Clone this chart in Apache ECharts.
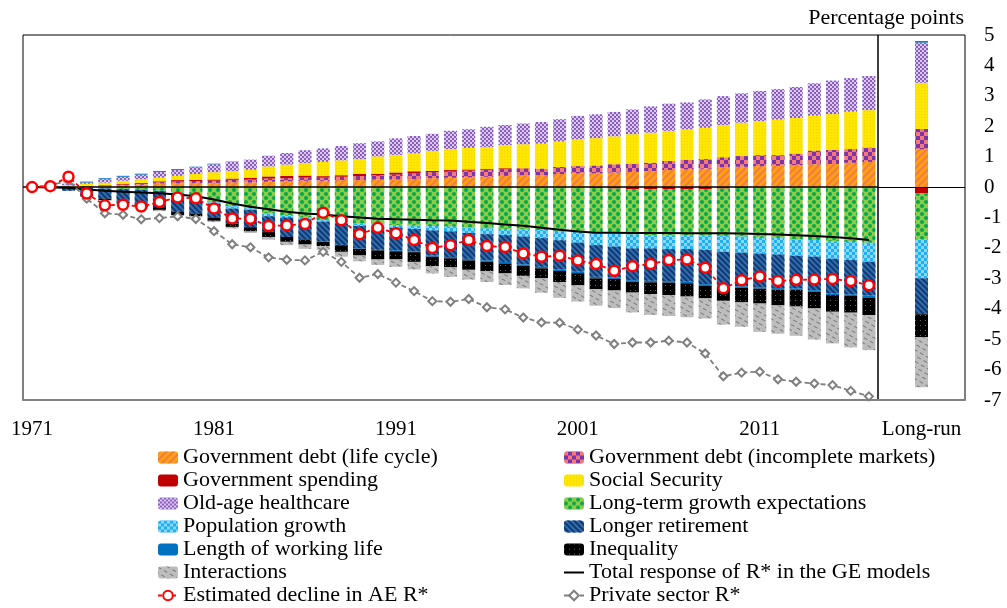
<!DOCTYPE html>
<html>
<head>
<meta charset="utf-8">
<script src="https://cdn.jsdelivr.net/npm/echarts@6/dist/echarts.min.js"></script>
<style>
html,body{margin:0;padding:0;background:#fff;}
#chart{width:1007px;height:608px;}
</style>
</head>
<body>
<div id="chart"></div>
<script>
// ---------------- DATA ----------------
const years = ['1971','1972','1973','1974','1975','1976','1977','1978','1979','1980',
  '1981','1982','1983','1984','1985','1986','1987','1988','1989','1990',
  '1991','1992','1993','1994','1995','1996','1997','1998','1999','2000',
  '2001','2002','2003','2004','2005','2006','2007','2008','2009','2010',
  '2011','2012','2013','2014','2015','2016','2017'];
const longRunLabel = ['Long-run'];
const yTicks = [-7,-6,-5,-4,-3,-2,-1,0,1,2,3,4,5];

const govDebtLifeCycle = [0,0,0.02,0.03,0.05,0.06,0.08,0.12,0.13,0.14,0.14,0.16,0.15,0.18,0.19,0.21,0.21,0.23,0.23,0.25,
  0.25,0.26,0.29,0.31,0.32,0.34,0.37,0.39,0.39,0.43,0.45,0.45,0.48,0.5,0.53,0.56,0.58,0.61,0.65,0.67,
  0.69,0.7,0.72,0.75,0.76,0.8,0.83];
const govDebtIncomplete = [0,0,0,0.01,0.01,0.02,0.03,0.04,0.05,0.06,0.07,0.08,0.1,0.1,0.1,0.1,0.1,0.11,0.13,0.14,
  0.16,0.19,0.2,0.2,0.22,0.22,0.22,0.22,0.22,0.23,0.24,0.26,0.27,0.27,0.27,0.3,0.31,0.31,0.33,0.35,
  0.36,0.35,0.38,0.45,0.46,0.45,0.47];
const govSpending = [0,0,0,0,0.01,0.02,0.03,0.03,0.05,0.04,0.04,0.04,0.05,0.07,0.08,0.07,0.05,0.05,0.07,0.05,
  0.07,0.07,0.04,0.05,0.04,0.03,0.03,0.01,0,0,-0.02,-0.03,-0.05,-0.07,-0.07,-0.07,-0.07,-0.07,-0.05,-0.03,
  -0.02,-0.01,0,0,0,0,0];
const socialSecurity = [0,0,0.05,0.07,0.08,0.11,0.12,0.12,0.14,0.19,0.24,0.25,0.27,0.33,0.37,0.41,0.47,0.49,0.49,0.57,
  0.58,0.59,0.66,0.69,0.71,0.73,0.76,0.79,0.82,0.84,0.88,0.9,0.92,0.97,0.99,0.99,1.01,1.03,1.06,1.1,
  1.12,1.17,1.17,1.15,1.18,1.23,1.23];
const oldAgeHealthcare = [0,0,0.03,0.04,0.11,0.13,0.15,0.19,0.19,0.22,0.26,0.3,0.33,0.35,0.38,0.42,0.44,0.47,0.52,0.49,
  0.54,0.57,0.56,0.6,0.61,0.66,0.66,0.68,0.71,0.73,0.77,0.78,0.8,0.81,0.86,0.89,0.88,0.93,0.95,0.96,
  0.99,1.0,1.02,1.06,1.1,1.1,1.12];
const growthExpectations = [0,0,0,-0.02,-0.04,-0.06,-0.08,-0.12,-0.18,-0.3,-0.5,-0.63,-0.7,-0.87,-0.92,-1.0,-1.09,-1.12,-1.2,-1.22,
  -1.25,-1.27,-1.28,-1.3,-1.33,-1.36,-1.38,-1.39,-1.41,-1.44,-1.45,-1.47,-1.47,-1.49,-1.51,-1.51,-1.51,-1.52,-1.56,-1.6,
  -1.65,-1.66,-1.72,-1.74,-1.78,-1.8,-1.83];
const populationGrowth = [0,0,0,0,-0.01,-0.01,-0.01,-0.01,-0.02,-0.02,-0.05,-0.08,-0.05,-0.09,-0.08,-0.06,-0.05,-0.08,-0.08,-0.09,
  -0.09,-0.11,-0.15,-0.16,-0.18,-0.19,-0.2,-0.24,-0.27,-0.31,-0.36,-0.41,-0.44,-0.46,-0.44,-0.46,-0.46,-0.48,-0.52,-0.53,
  -0.52,-0.55,-0.54,-0.55,-0.58,-0.6,-0.63];
const longerRetirement = [0,0,-0.12,-0.26,-0.33,-0.42,-0.48,-0.53,-0.61,-0.55,-0.45,-0.49,-0.57,-0.52,-0.64,-0.65,-0.65,-0.7,-0.73,-0.75,
  -0.74,-0.73,-0.82,-0.84,-0.85,-0.86,-0.88,-0.91,-0.94,-0.96,-0.95,-1.04,-1.01,-1.04,-1.06,-1.05,-1.07,-1.12,-1.12,-1.1,
  -1.1,-1.1,-1.07,-1.1,-1.14,-1.13,-1.1];
const workingLife = [0,0,0.01,0.03,0.03,0.03,0.03,0.03,0.03,0.02,0.02,0.01,0,0,0,-0.01,-0.01,-0.01,-0.02,-0.02,
  -0.03,-0.03,-0.04,-0.04,-0.05,-0.05,-0.05,-0.05,-0.05,-0.05,-0.05,-0.05,-0.05,-0.05,-0.05,-0.05,-0.05,-0.05,-0.05,-0.05,
  -0.05,-0.05,-0.05,-0.05,-0.05,-0.05,-0.07];
const inequality = [0,0,0,-0.03,-0.05,-0.05,-0.09,-0.09,-0.11,-0.09,-0.11,-0.11,-0.14,-0.16,-0.16,-0.17,-0.14,-0.22,-0.22,-0.3,
  -0.27,-0.32,-0.31,-0.3,-0.31,-0.31,-0.33,-0.33,-0.33,-0.36,-0.4,-0.36,-0.38,-0.36,-0.39,-0.41,-0.44,-0.42,-0.44,-0.48,
  -0.49,-0.52,-0.55,-0.55,-0.55,-0.55,-0.58];
const interactions = [0,0,0,-0.01,-0.02,-0.03,-0.03,-0.04,-0.03,-0.04,-0.04,-0.05,-0.05,-0.09,-0.11,-0.14,-0.13,-0.16,-0.19,-0.18,
  -0.24,-0.25,-0.24,-0.31,-0.32,-0.35,-0.38,-0.41,-0.47,-0.52,-0.53,-0.54,-0.58,-0.65,-0.68,-0.69,-0.68,-0.66,-0.78,-0.8,
  -0.93,-0.93,-0.96,-1.02,-1.04,-1.14,-1.15];

// Long-run bar, in series order
const longRunValues = [1.24,0.67,-0.21,1.52,1.32,-1.5,-1.29,-1.18,0.05,-0.76,-1.64];

const totalGE = [0,-0.01,-0.02,-0.08,-0.12,-0.15,-0.18,-0.2,-0.24,-0.3,-0.41,-0.54,-0.65,-0.73,-0.81,-0.87,-0.9,-0.96,-1.0,-1.04,
  -1.06,-1.07,-1.09,-1.1,-1.14,-1.18,-1.23,-1.27,-1.34,-1.4,-1.46,-1.5,-1.5,-1.51,-1.51,-1.51,-1.52,-1.52,-1.52,-1.53,
  -1.54,-1.56,-1.58,-1.61,-1.64,-1.68,-1.74];
const estimatedAE = [0,0.03,0.34,-0.21,-0.6,-0.58,-0.64,-0.49,-0.34,-0.37,-0.7,-1.03,-1.04,-1.28,-1.26,-1.21,-0.84,-1.09,-1.55,-1.34,
  -1.52,-1.74,-2.0,-1.91,-1.74,-1.94,-1.97,-2.18,-2.29,-2.26,-2.41,-2.53,-2.75,-2.6,-2.53,-2.4,-2.38,-2.65,-3.33,-3.06,
  -2.94,-3.09,-3.05,-3.04,-3.02,-3.09,-3.23];
const privateSector = [0,0.05,0.22,-0.38,-0.86,-0.91,-1.06,-1.02,-0.96,-1.05,-1.45,-1.88,-1.98,-2.31,-2.39,-2.41,-2.13,-2.46,-2.98,-2.86,
  -3.14,-3.42,-3.75,-3.77,-3.68,-3.95,-4.02,-4.29,-4.45,-4.46,-4.68,-4.88,-5.16,-5.11,-5.11,-5.05,-5.11,-5.47,-6.22,-6.1,
  -6.07,-6.32,-6.4,-6.46,-6.51,-6.7,-6.88];

const barNames = ['Government debt (life cycle)','Government debt (incomplete markets)','Government spending',
  'Social Security','Old-age healthcare','Long-term growth expectations','Population growth',
  'Longer retirement','Length of working life','Inequality','Interactions'];
const barData = [govDebtLifeCycle,govDebtIncomplete,govSpending,socialSecurity,oldAgeHealthcare,
  growthExpectations,populationGrowth,longerRetirement,workingLife,inequality,interactions];
const lineNames = ['Total response of R* in the GE models','Estimated decline in AE R*','Private sector R*'];

// ---------------- STYLES ----------------
const FONT = 'Liberation Serif';
const barStyles = [
  {color:'#FFA010', decal:{symbol:'rect',symbolSize:1,color:'rgba(238,112,86,0.8)',dashArrayX:[1,0],dashArrayY:[2,3],rotation:-Math.PI/4}},
  {color:'#F47A7A', decal:{symbol:'rect',symbolSize:1,color:'#7B35A8',dashArrayX:[[4,4],[0,4,4,0]],dashArrayY:[4,0]}},
  {color:'#C00000'},
  {color:'#FFE600', decal:{symbol:'rect',symbolSize:1,color:'rgba(215,180,0,0.35)',dashArrayX:[1,2],dashArrayY:[1,2]}},
  {color:'#D9CBEF', decal:{symbol:'rect',symbolSize:1,color:'#8C5CC2',dashArrayX:[[2,2],[0,2,2,0]],dashArrayY:[2,0]}},
  {color:'#8DCB4B', decal:{symbol:'circle',symbolSize:1,color:'#00A84F',dashArrayX:[[4,4],[0,4,4,0]],dashArrayY:[4,0]}},
  {color:'#1FB0EE', decal:{symbol:'rect',symbolSize:1,color:'rgba(165,222,250,0.8)',dashArrayX:[[3,3],[0,3,3,0]],dashArrayY:[3,0]}},
  {color:'#2E6EB5', decal:{symbol:'rect',symbolSize:1,color:'#15386A',dashArrayX:[1,0],dashArrayY:[2,2],rotation:Math.PI/4}},
  {color:'#0070C0'},
  {color:'#000000', decal:{symbol:'rect',symbolSize:1,color:'#666666',dashArrayX:[1,4],dashArrayY:[1,4]}},
  {color:'#BDBDBD', decal:{symbol:'rect',symbolSize:1,color:'#7A7A7A',dashArrayX:[4,3],dashArrayY:[1,4],rotation:Math.PI/6}}
];

// ---------------- OPTION ----------------
const series = [];
barNames.forEach((name,i)=>{
  series.push({
    name:name, type:'bar', stack:'main', xAxisIndex:0, yAxisIndex:0,
    barWidth:13, data:barData[i], itemStyle:barStyles[i],
    markLine: i===0 ? {silent:true,symbol:['none','none'],label:{show:false},
      lineStyle:{color:'#000',width:1.5,type:'solid'},data:[{yAxis:0}]} : undefined
  });
  series.push({
    name:name, type:'bar', stack:'lr', xAxisIndex:1, yAxisIndex:1,
    barWidth:13, data:[longRunValues[i]], itemStyle:barStyles[i],
    markLine: i===0 ? {silent:true,symbol:['none','none'],label:{show:false},
      lineStyle:{color:'#000',width:1.2,type:'solid'},data:[{yAxis:0}]} : undefined
  });
});
series.push({
  name:lineNames[0], type:'line', xAxisIndex:0, yAxisIndex:0, data:totalGE,
  symbol:'none', lineStyle:{color:'#000',width:2}, itemStyle:{color:'#000'}, z:5
});
series.push({
  name:lineNames[2], type:'line', xAxisIndex:0, yAxisIndex:0, data:privateSector,
  symbol:'diamond', symbolSize:8,
  lineStyle:{color:'#7F7F7F',width:1.8,type:[5,3]},
  itemStyle:{color:'#fff',borderColor:'#7F7F7F',borderWidth:2}, z:6
});
series.push({
  name:lineNames[1], type:'line', xAxisIndex:0, yAxisIndex:0, data:estimatedAE,
  symbol:'circle', symbolSize:10,
  lineStyle:{color:'#FF0000',width:1.8,type:[4,3]},
  itemStyle:{color:'#fff',borderColor:'#FF0000',borderWidth:2.5}, z:7
});

const allNames = barNames.concat(lineNames);
const legendItem = n => n===lineNames[0] ? {name:n, itemStyle:{opacity:0}} : {name:n};
const leftLegend = allNames.filter((n,i)=>i%2===0).map(legendItem);
const rightLegend = allNames.filter((n,i)=>i%2===1).map(legendItem);
const legendCommon = {
  orient:'vertical', itemWidth:20, itemHeight:12, itemGap:0, height:200, padding:0,
  textStyle:{fontFamily:FONT,fontSize:22,color:'#000',lineHeight:23}, top:446,
  selectedMode:false
};

const option = {
  animation:false,
  backgroundColor:'#fff',
  title:{text:'Percentage points', right:38, top:2,
    textStyle:{fontFamily:FONT,fontSize:22,fontWeight:'normal',color:'#000'}},
  legend:[
    Object.assign({}, legendCommon, {left:157, data:leftLegend}),
    Object.assign({}, legendCommon, {left:563, data:rightLegend})
  ],
  grid:[
    {left:23, top:35, width:855, height:365, show:true, borderColor:'#000', borderWidth:1, containLabel:false},
    {left:878, top:35, width:87, height:365, show:true, borderColor:'#000', borderWidth:1, containLabel:false}
  ],
  xAxis:[
    {type:'category', gridIndex:0, data:years, boundaryGap:true,
      axisLine:{onZero:false, lineStyle:{color:'#808080',width:2}},
      axisTick:{show:false},
      axisLabel:{interval:9, margin:19, fontFamily:FONT, fontSize:21, color:'#000'}},
    {type:'category', gridIndex:1, data:longRunLabel, boundaryGap:true,
      axisLine:{onZero:false, lineStyle:{color:'#808080',width:2}},
      axisTick:{show:false},
      axisLabel:{margin:19, fontFamily:FONT, fontSize:21, color:'#000'}}
  ],
  yAxis:[
    {type:'value', gridIndex:0, min:yTicks[0], max:yTicks[yTicks.length-1], interval:1, show:false},
    {type:'value', gridIndex:1, position:'right', min:yTicks[0], max:yTicks[yTicks.length-1], interval:1,
      axisLine:{show:false}, axisTick:{show:false}, splitLine:{show:false},
      axisLabel:{margin:19, fontFamily:FONT, fontSize:21, color:'#000'}}
  ],
  series:series
};

const chart = echarts.init(document.getElementById('chart'), null, {renderer:'canvas'});
chart.setOption(option);
</script>
</body>
</html>
